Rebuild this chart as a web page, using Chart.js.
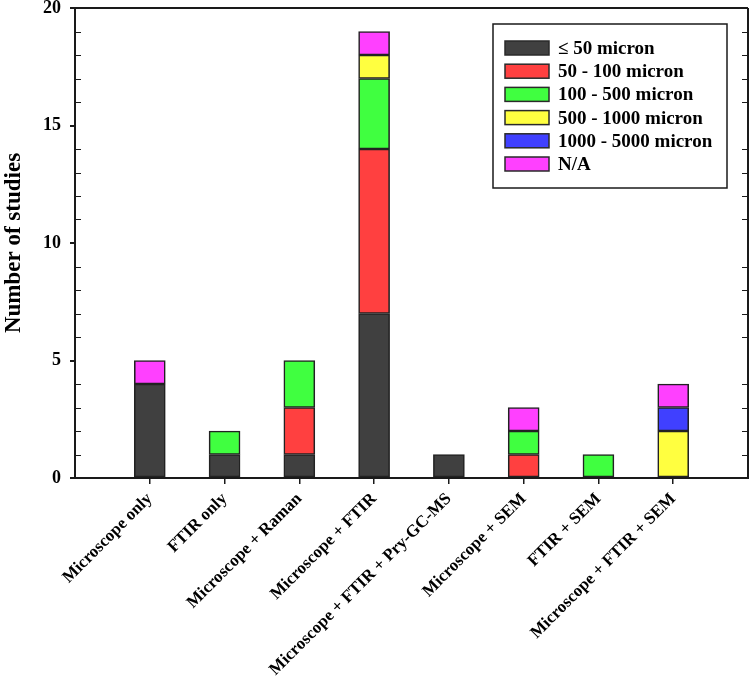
<!DOCTYPE html>
<html><head><meta charset="utf-8">
<script src="https://cdn.jsdelivr.net/npm/chart.js@4/dist/chart.umd.min.js"></script>
<style>html,body{margin:0;padding:0;background:#fff;} #wrap{width:750px;height:680px;position:relative;}</style>
</head><body><div id="wrap"><canvas id="c" width="750" height="680"></canvas></div>
<script>
const categories = ['Microscope only','FTIR only','Microscope + Raman','Microscope + FTIR','Microscope + FTIR + Pry-GC-MS','Microscope + SEM','FTIR + SEM','Microscope + FTIR + SEM'];
const sizeClasses = ['\u2264 50 micron','50 - 100 micron','100 - 500 micron','500 - 1000 micron','1000 - 5000 micron','N/A'];
const le50       = [4,1,1,7,1,0,0,0];
const s50_100    = [0,0,2,7,0,1,0,0];
const s100_500   = [0,1,2,3,0,1,1,0];
const s500_1000  = [0,0,0,1,0,0,0,2];
const s1000_5000 = [0,0,0,0,0,0,0,1];
const na         = [1,0,0,1,0,1,0,1];
const yTickValues = [0,5,10,15,20];
const colors = ['#404040','#ff4040','#40ff40','#ffff40','#4040ff','#ff40ff'];

const FONT = "'Liberation Serif', 'Times New Roman', serif";
const AX = '#1a1a1a';
const series = [le50, s50_100, s100_500, s500_1000, s1000_5000, na];
const labels = [''].concat(categories, ['']);
const datasets = series.map((arr, i) => ({
  label: sizeClasses[i],
  data: [null].concat(arr.map(v => v === 0 ? null : v), [null]),
  backgroundColor: colors[i],
  borderColor: '#222222',
  borderWidth: 1.6,
  borderSkipped: false,
  barThickness: 31
}));

const framePlugin = {
  id: 'frame',
  afterDraw(chart) {
    const ctx = chart.ctx, a = chart.chartArea, y = chart.scales.y;
    ctx.save();
    ctx.strokeStyle = AX; ctx.lineWidth = 2;
    ctx.beginPath();
    ctx.moveTo(a.left - 1, a.top); ctx.lineTo(a.right, a.top);
    ctx.moveTo(a.right, a.top); ctx.lineTo(a.right, a.bottom + 1);
    ctx.stroke();
    ctx.lineWidth = 1.2;
    ctx.beginPath();
    for (let v = 0; v <= 20; v++) {
      if (v % 5 === 0) continue;
      const py = Math.round(y.getPixelForValue(v)) + 0.5;
      ctx.moveTo(a.left, py); ctx.lineTo(a.left + 6, py);
      ctx.moveTo(a.right, py); ctx.lineTo(a.right - 6, py);
    }
    ctx.stroke();
    // legend
    const lx = a.right - 255, ly = a.top + 16, lw = 234, lh = 164;
    ctx.fillStyle = '#fff';
    ctx.fillRect(lx, ly, lw, lh);
    ctx.lineWidth = 1.5; ctx.strokeStyle = AX;
    ctx.strokeRect(lx, ly, lw, lh);
    ctx.font = 'bold 19px ' + FONT;
    ctx.textBaseline = 'middle'; ctx.textAlign = 'left';
    chart.data.datasets.forEach((ds, i) => {
      const by = ly + 17 + i * 23.2;
      ctx.fillStyle = ds.backgroundColor;
      ctx.fillRect(lx + 12, by, 44, 14);
      ctx.lineWidth = 1.5; ctx.strokeStyle = '#2a2a2a';
      ctx.strokeRect(lx + 12, by, 44, 14);
      ctx.fillStyle = '#000';
      ctx.fillText(ds.label, lx + 65, by + 8);
    });
    ctx.restore();
  }
};

new Chart(document.getElementById('c'), {
  type: 'bar',
  data: { labels, datasets },
  options: {
    responsive: false,
    animation: false,
    layout: { padding: { top: 8, right: 2, left: 0, bottom: 0 } },
    plugins: { legend: { display: false }, tooltip: { enabled: false } },
    scales: {
      x: {
        stacked: true,
        offset: false,
        afterFit(s) { s.height = 202; s.paddingLeft = 0; s.paddingRight = 0; },
        border: { display: true, color: AX, width: 2 },
        grid: {
          display: true, drawOnChartArea: false, drawTicks: true, tickLength: 6, offset: false,
          lineWidth: 1.5,
          tickColor: c => (c.index === 0 || c.index === labels.length - 1) ? 'rgba(0,0,0,0)' : AX
        },
        ticks: {
          autoSkip: false, maxRotation: 45, minRotation: 45, padding: 5,
          color: '#000', font: { family: FONT, size: 17, weight: 'bold' }
        }
      },
      y: {
        stacked: true,
        min: 0, max: 20,
        afterFit(s) { s.width = 75; s.paddingTop = 0; s.paddingBottom = 0; },
        afterBuildTicks(s) { s.ticks = yTickValues.map(v => ({ value: v })); },
        border: { display: true, color: AX, width: 2 },
        grid: { display: true, drawOnChartArea: false, drawTicks: true, tickLength: 5, lineWidth: 2, tickColor: AX },
        ticks: { stepSize: 5, padding: 9, color: '#000', font: { family: FONT, size: 18, weight: 'bold' } },
        title: { display: true, text: 'Number of studies', color: '#000', padding: { top: 0, bottom: 0 },
                 font: { family: FONT, size: 23, weight: 'bold' } }
      }
    }
  },
  plugins: [framePlugin]
});
</script></body></html>
